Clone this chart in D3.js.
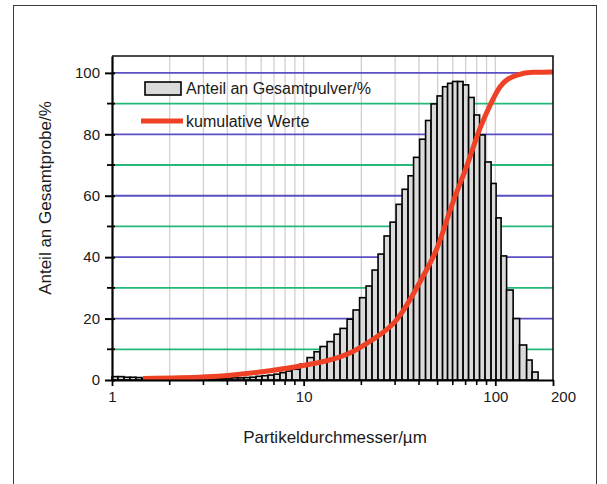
<!DOCTYPE html>
<html>
<head>
<meta charset="utf-8">
<script src="https://cdn.jsdelivr.net/npm/d3@7"></script>
<style>
  html, body { margin: 0; padding: 0; background: #fff; }
  svg { display: block; }
  text { font-family: "Liberation Sans", Arial, sans-serif; fill: #1a1a1a; }
</style>
</head>
<body>
<svg id="chart" width="607" height="484"></svg>
<script>
// ---------------- data ----------------
// histogram class edges (µm) and class values (%)
const binEdges = [1.000, 1.075, 1.155, 1.241, 1.334, 1.434, 1.541, 1.657, 1.781, 1.914,
  2.057, 2.211, 2.376, 2.554, 2.745, 2.950, 3.170, 3.407, 3.662, 3.936,
  4.230, 4.546, 4.886, 5.251, 5.644, 6.066, 6.519, 7.006, 7.530, 8.093, 8.698,
  9.577, 10.42, 11.33, 12.18, 13.25, 14.41, 15.49, 16.85, 18.11, 19.58,
  21.17, 22.75, 24.45, 26.28, 28.25, 30.36, 32.63, 35.07, 37.46, 40.27,
  43.28, 46.23, 49.69, 53.08, 56.37, 59.87, 63.57, 67.92, 72.55, 77.51,
  82.80, 88.46, 95.08, 100.96, 107.2, 114.5, 123.9, 133.9, 145.7, 155.6, 167.2];
const binValues = [1.1, 1.1, 0.9, 0.9, 0.8, 0.4, 0.3, 0.3, 0.3, 0.3,
  0.3, 0.3, 0.3, 0.3, 0.4, 0.4, 0.4, 0.5, 0.5, 0.6,
  0.7, 0.7, 0.8, 0.9, 1.2, 1.4, 1.6, 1.9, 2.4, 2.9, 3.5,
  5.2, 7.3, 9.2, 10.9, 12.5, 14.9, 16.8, 19.8, 22.8, 26.8,
  30.6, 35.8, 41.0, 46.9, 51.4, 57.2, 62.1, 66.5, 72.5, 78.4,
  84.5, 89.9, 92.5, 95.5, 96.6, 97.2, 97.2, 96.1, 92.0, 86.3,
  79.8, 71.0, 64.0, 52.8, 40.4, 29.3, 20.0, 11.4, 6.5, 2.6];

// cumulative curve
const cumSize  = [1.451, 2.264, 4.031, 6.677, 9.929, 14.94, 18.10, 22.21, 30.73, 40.51,
  49.69, 60.21, 71.26, 83.29, 93.96, 105.9, 130.0, 157.5, 200];
const cumValue = [0.5, 0.7, 1.5, 3.0, 4.7, 7.2, 9.3, 12.6, 19.8, 32.0,
  43.0, 58.0, 70.0, 82.0, 89.5, 95.5, 99.3, 100.2, 100.3];

// axes ticks
const xTickValues = [1, 10, 100, 200];
const xTickLabels = ["1", "10", "100", "200"];
const xMinorTicks = [2, 3, 4, 5, 6, 7, 8, 9, 20, 30, 40, 50, 60, 70, 80, 90];
const xGridValues = [2, 3, 4, 5, 6, 7, 8, 9, 10, 20, 30, 40, 50, 60, 70, 80, 90, 100];
const yTickValues = [0, 20, 40, 60, 80, 100];
const yMinorTicks = [10, 30, 50, 70, 90];

const legendLabels = ["Anteil an Gesamtpulver/%", "kumulative Werte"];
const xTitle = "Partikeldurchmesser/µm";
const yTitle = "Anteil an Gesamtprobe/%";

// ---------------- drawing ----------------
const svg = d3.select("#chart");
const m = { left: 112, right: 553, top: 56, bottom: 380 };

const x = d3.scaleLog().domain([1, 200]).range([m.left, m.right]);
const y = d3.scaleLinear().domain([0, 105.5]).range([m.bottom, m.top]);

// outer frame
svg.append("rect").attr("x", 13.5).attr("y", 5.5).attr("width", 583).attr("height", 490)
  .attr("fill", "none").attr("stroke", "#3a3a3a").attr("stroke-width", 1);

// vertical grid
svg.append("g").selectAll("line").data(xGridValues).join("line")
  .attr("x1", d => x(d)).attr("x2", d => x(d))
  .attr("y1", m.top).attr("y2", m.bottom)
  .attr("stroke", "#d5cfca").attr("stroke-width", 1.3);

// horizontal grid
const hGrid = yMinorTicks.concat(yTickValues.filter(d => d > 0));
svg.append("g").selectAll("line").data(hGrid).join("line")
  .attr("x1", m.left).attr("x2", m.right)
  .attr("y1", d => y(d)).attr("y2", d => y(d))
  .attr("stroke", d => (d % 20 === 0 ? "#5b4fc4" : "#25b878"))
  .attr("stroke-width", 1.8);

// bars
const bars = binValues.map((v, i) => ({ x0: binEdges[i], x1: binEdges[i + 1], v }));
svg.append("g").selectAll("rect").data(bars).join("rect")
  .attr("x", d => x(d.x0))
  .attr("width", d => Math.max(0, x(d.x1) - x(d.x0)))
  .attr("y", d => y(d.v))
  .attr("height", d => y(0) - y(d.v))
  .attr("fill", "#dadada")
  .attr("stroke", "#000")
  .attr("stroke-width", 1.6);

// cumulative curve
const line = d3.line().x((d, i) => x(cumSize[i])).y((d, i) => y(cumValue[i]))
  .curve(d3.curveMonotoneX);
svg.append("path").datum(cumValue).attr("d", line)
  .attr("fill", "none").attr("stroke", "#ef4125").attr("stroke-width", 5)
  .attr("stroke-linecap", "butt");

// plot frame (top and right)
svg.append("path")
  .attr("d", `M${m.left},${m.top}H${m.right}V${m.bottom}`)
  .attr("fill", "none").attr("stroke", "#111").attr("stroke-width", 1.6);

// x axis
const xAxis = d3.axisBottom(x).tickValues(xTickValues)
  .tickFormat((d, i) => xTickLabels[i]).tickSize(6).tickSizeOuter(0).tickPadding(5);
const gx = svg.append("g").attr("transform", `translate(0,${m.bottom})`).call(xAxis);
gx.select(".domain").attr("stroke", "#000").attr("stroke-width", 2.2);
gx.selectAll(".tick line").attr("stroke", "#000").attr("stroke-width", 1.8);
gx.selectAll(".tick text").attr("font-size", 15).attr("fill", "#1a1a1a")
  .attr("dx", d => (d === 200 ? 10 : 0));
svg.append("g").selectAll("line").data(xMinorTicks).join("line")
  .attr("x1", d => x(d)).attr("x2", d => x(d))
  .attr("y1", m.bottom).attr("y2", m.bottom + 5)
  .attr("stroke", "#000").attr("stroke-width", 1.6);

// y axis
const yAxis = d3.axisLeft(y).tickValues(yTickValues).tickSize(7).tickSizeOuter(0).tickPadding(5);
const gy = svg.append("g").attr("transform", `translate(${m.left},0)`).call(yAxis);
gy.select(".domain").attr("stroke", "#000").attr("stroke-width", 2.2);
gy.selectAll(".tick line").attr("stroke", "#000").attr("stroke-width", 2).attr("x2", -7).attr("x1", 3);
gy.selectAll(".tick text").attr("font-size", 15).attr("fill", "#1a1a1a");
svg.append("g").selectAll("line").data(yMinorTicks).join("line")
  .attr("x1", m.left - 5).attr("x2", m.left + 3)
  .attr("y1", d => y(d)).attr("y2", d => y(d))
  .attr("stroke", "#000").attr("stroke-width", 1.8);

// titles
svg.append("text").attr("x", 335).attr("y", 443).attr("text-anchor", "middle")
  .attr("font-size", 17).text(xTitle);
svg.append("text").attr("transform", "translate(51,198) rotate(-90)")
  .attr("text-anchor", "middle").attr("font-size", 17).text(yTitle);

// legend
const lg = svg.append("g");
lg.append("rect").attr("x", 145).attr("y", 82).attr("width", 36).attr("height", 13)
  .attr("fill", "#dadada").attr("stroke", "#000").attr("stroke-width", 1.6);
lg.append("text").attr("x", 186).attr("y", 94).attr("font-size", 16).text(legendLabels[0]);
lg.append("line").attr("x1", 141).attr("x2", 183).attr("y1", 121).attr("y2", 121)
  .attr("stroke", "#ef4125").attr("stroke-width", 5);
lg.append("text").attr("x", 186).attr("y", 127).attr("font-size", 16).text(legendLabels[1]);
</script>
</body>
</html>
